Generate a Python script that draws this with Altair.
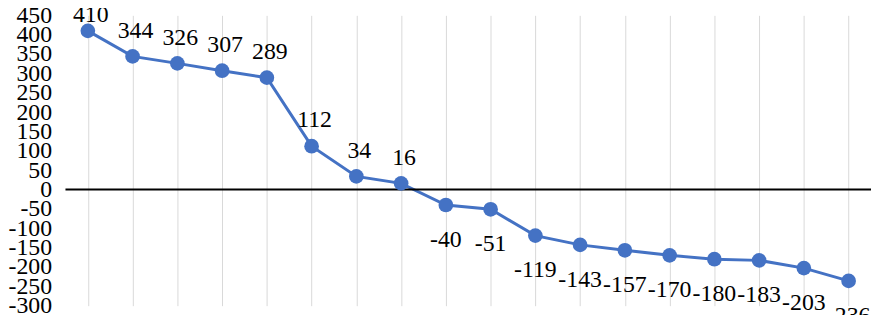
import altair as alt
import pandas as pd

categories = [str(i) for i in range(1, 19)]
values = [410, 344, 326, 307, 289, 112, 34, 16, -40, -51, -119, -143, -157, -170, -180, -183, -203, -236]
y_ticks = list(range(-300, 451, 50))

df = pd.DataFrame({"cat": categories, "v": values})

FONT = "Liberation Serif"
BLUE = "#4472C4"
YSCALE = alt.Scale(domain=[-300, 450], nice=False, zero=False)
YAXIS = alt.Axis(
    title=None, values=y_ticks, grid=False, ticks=False, domain=False,
    labelFont=FONT, labelFontSize=24, labelColor="black", labelPadding=14,
    labelOverlap=False, labelBound=False, labelFlush=False,
    labelExpr="'' + datum.value",
)

x_enc = alt.X(
    "cat:O",
    sort=categories,
    scale=alt.Scale(paddingInner=0, paddingOuter=0),
    axis=alt.Axis(
        title=None, labels=False, ticks=False, domain=False, grid=True,
        bandPosition=0, gridColor="#d9d9d9", gridWidth=1,
    ),
)
y_enc = alt.Y("v:Q", scale=YSCALE, axis=YAXIS)

base = alt.Chart(df)

zero_rule = base.transform_filter("datum.cat == '1'").transform_calculate(z="0").mark_rule(
    color="black", strokeWidth=2
).encode(y=alt.Y("z:Q", scale=YSCALE, axis=YAXIS))

line = base.mark_line(color=BLUE, strokeWidth=3).encode(x=x_enc, y=y_enc)
points = base.mark_circle(color=BLUE, opacity=1, size=220).encode(x=x_enc, y=y_enc)

labels_top = base.transform_filter("datum.v >= 400").mark_text(
    font=FONT, fontSize=24, color="black", baseline="middle", align="center", dy=-16, dx=3
).encode(x=x_enc, y=y_enc, text=alt.Text("v:N"))

labels_pos = base.transform_filter("datum.v >= 0 && datum.v < 400").mark_text(
    font=FONT, fontSize=24, color="black", baseline="middle", align="center", dy=-26, dx=3
).encode(x=x_enc, y=y_enc, text=alt.Text("v:N"))

labels_neg = base.transform_filter("datum.v < 0").mark_text(
    font=FONT, fontSize=24, color="black", baseline="middle", align="center", dy=35
).encode(x=x_enc, y=y_enc, text=alt.Text("v:N"))

chart = alt.layer(line, zero_rule, points, labels_top, labels_pos, labels_neg).properties(
    width=813,
    height=293,
    autosize=alt.AutoSizeParams(type="none"),
    padding={"left": 58, "top": 6, "right": 0, "bottom": 8},
).configure_view(stroke=None)

chart.save("out.html", embed_options={"renderer": "svg", "actions": False})
